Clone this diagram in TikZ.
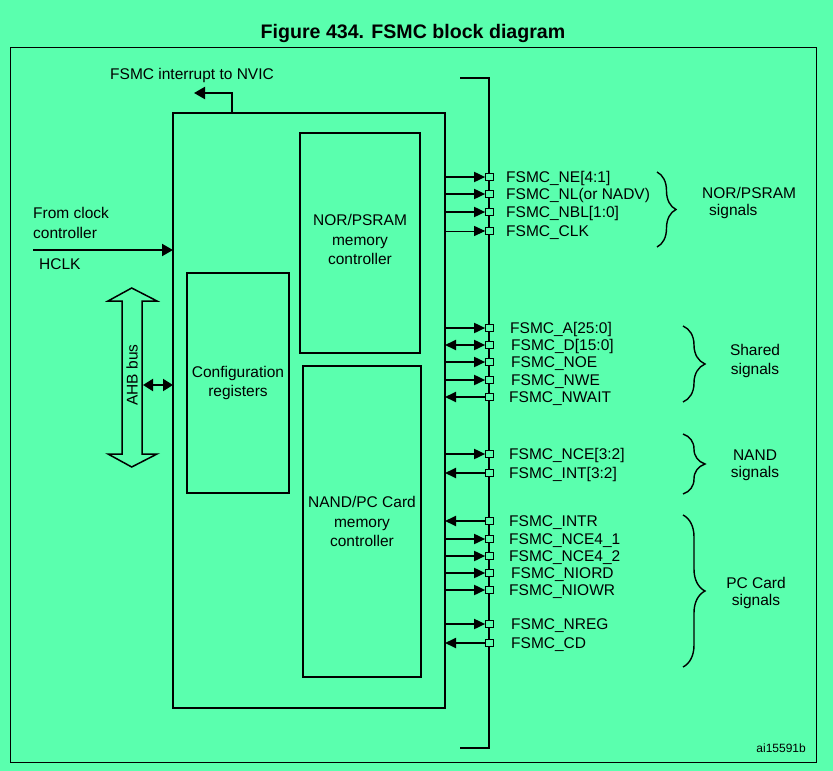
\documentclass[tikz,border=0pt]{standalone}
\usepackage{fontspec}
\setmainfont{Liberation Sans}
\usetikzlibrary{arrows.meta,decorations.pathreplacing}
\definecolor{bg}{RGB}{90,255,174}
\begin{document}
\begin{tikzpicture}[x=1pt,y=-1pt,
  txt/.style={font=\fontsize{15.5}{19.5}\selectfont, inner sep=0pt},
  lbl/.style={txt, anchor=west, text height=11pt, text depth=0pt},
  box/.style={draw, line width=1.5pt, fill=bg, outer sep=0pt, align=center, txt},
  pinbox/.style={draw, fill=bg, minimum size=7.5pt, inner sep=0pt, line width=1.2pt},
  sigline/.style={line width=1.8pt},
  tipr/.style={-{Triangle[length=11pt,width=10pt]}},
  tipb/.style={{Triangle[length=11pt,width=10pt]}-{Triangle[length=11pt,width=10pt]}},
  bracestyle/.style={decorate, line width=1.4pt},
]
% background and frame
\fill[bg] (0,0) rectangle (833,771);
\useasboundingbox (0,0) rectangle (833,771);
\draw[line width=1pt] (10.5,47.5) rectangle (816.5,762.5);

% title
\node[font=\fontsize{19.6}{23}\selectfont\bfseries, inner sep=0pt] (title) at (413,33) {Figure 434. FSMC block diagram};

% main block
\node[draw, line width=2pt, fill=bg, minimum width=272pt, minimum height=595pt, anchor=north west, outer sep=0pt] (main) at (173,113) {};
\node[box, minimum width=120pt, minimum height=220pt] (nor) at (360,243) {NOR/PSRAM\\memory\\controller\\[-13pt]\mbox{}};
\node[box, minimum width=102pt, minimum height=220pt] (cfg) at (238,383) {Configuration\\registers};
\node[box, minimum width=118pt, minimum height=311pt] (nand) at (362,521.5) {NAND/PC Card\\memory\\controller};

% interrupt
\node[txt, anchor=west] (irqtext) at (110,75) {FSMC interrupt to NVIC};
\coordinate (nvic) at (194,93);
\draw[line width=2pt, -{Triangle[length=11pt,width=12pt]}] ([xshift=59pt]main.north west) |- (nvic);

% clock
\node[txt, anchor=west, align=left] (clktext) at (33,223) {From clock\\controller};
\node[lbl] (hclk) at (39,264) {HCLK};
\coordinate (clk) at (33,250);
\draw[line width=2pt, -{Triangle[length=11pt,width=12pt]}] (clk) -- (clk -| main.west);

% AHB bus
\draw[line width=1.5pt, fill=bg] (131.7,288) -- (157,301) -- (142,301) -- (142,454) -- (157,454) -- (131.7,467) -- (108,454) -- (122,454) -- (122,301) -- (108,301) -- cycle;
\node[txt, rotate=90] (ahb) at (132,375) {AHB bus};
\coordinate (ahbr) at (143,385);
\draw[line width=2pt, {Triangle[length=10pt,width=12pt]}-{Triangle[length=10pt,width=12pt]}] (ahbr) -- (ahbr -| main.west);

% external bus line
\coordinate (bustop) at (460,78);
\coordinate (busbot) at (460,748);
\draw[line width=2pt] (bustop) -- (489,78) -- (489,748) -- (busbot);

% pins and labels
\foreach \n/\y/\x/\t in {
  ne/177/506/{FSMC\_NE[4:1]},
  nl/194/506/{FSMC\_NL(or NADV)},
  nbl/212/506/{FSMC\_NBL[1:0]},
  clk/231/506/{FSMC\_CLK},
  a/328/510/{FSMC\_A[25:0]},
  d/345/511/{FSMC\_D[15:0]},
  noe/362/511/{FSMC\_NOE},
  nwe/380/511/{FSMC\_NWE},
  nwait/397/509/{FSMC\_NWAIT},
  nce/454/509/{FSMC\_NCE[3:2]},
  int/473/509/{FSMC\_INT[3:2]},
  intr/521/509/{FSMC\_INTR},
  ncea/539/509/{FSMC\_NCE4\_1},
  nceb/556/509/{FSMC\_NCE4\_2},
  niord/573/511/{FSMC\_NIORD},
  niowr/590/509/{FSMC\_NIOWR},
  nreg/624/511/{FSMC\_NREG},
  cd/643/511/{FSMC\_CD}} {
  \node[pinbox] (p\n) at (489.5,\y) {};
  \node[lbl] (l\n) at (\x,\y) {\t};
}

% outgoing signals
\foreach \n in {ne,nl,nbl,a,noe,nwe,nce,ncea,nceb,niord,niowr,nreg}
  \draw[sigline, tipr] (p\n.west -| main.east) -- (p\n.west);
\draw[line width=1pt, tipr] (pclk.west -| main.east) -- (pclk.west);
% incoming signals
\foreach \n in {nwait,int,intr,cd}
  \draw[sigline, tipr] (p\n.west) -- (p\n.west -| main.east);
% bidirectional
\draw[sigline, tipb] (pd.west -| main.east) -- (pd.west);

% braces
\draw[bracestyle, decoration={brace, amplitude=19pt}] (657,172) -- (657,247);
\draw[bracestyle, decoration={brace, amplitude=22pt}] (683,326) -- (683,402);
\draw[bracestyle, decoration={brace, amplitude=22pt}] (683,434) -- (683,494);
\draw[bracestyle, decoration={brace, amplitude=22pt}] (683,515) -- (683,667);

\node[txt, anchor=west, align=left, font=\fontsize{15.5}{17}\selectfont] (gnor) at (702,203) {NOR/PSRAM\\\hspace*{7pt}signals};
\node[txt, align=center, font=\fontsize{15.5}{19}\selectfont] (gshared) at (755,361) {Shared\\signals};
\node[txt, align=center, font=\fontsize{15.5}{17}\selectfont] (gnand) at (755,465) {NAND\\signals};
\node[txt, align=center, font=\fontsize{15.5}{16.5}\selectfont] (gpc) at (756,593) {PC Card\\signals};

% figure id
\node[inner sep=0pt, anchor=east, font=\fontsize{12}{14}\selectfont] (fid) at (806,748) {ai15591b};
\end{tikzpicture}
\end{document}
